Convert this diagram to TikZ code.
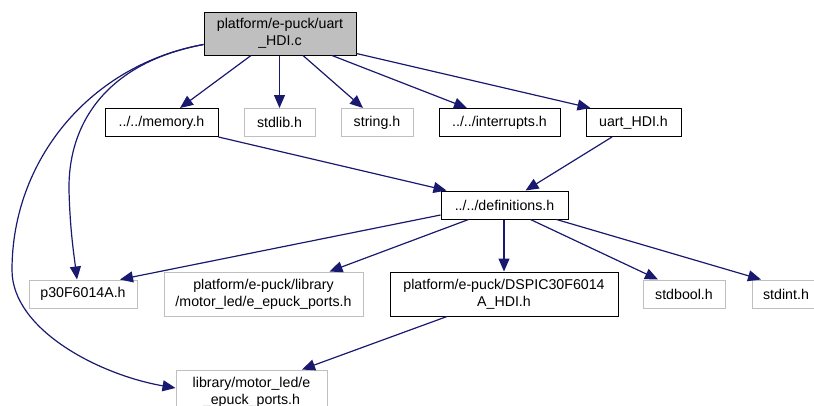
\documentclass[tikz,border=0pt]{standalone}
\usepackage{fontspec}
\setmainfont{Liberation Sans}
\usetikzlibrary{arrows.meta,calc}
\definecolor{edgeblue}{HTML}{191970}
\definecolor{boxgray}{HTML}{BFBFBF}
\begin{document}
\begin{tikzpicture}[x=1pt,y=-1pt,
  box/.style={draw=black,line width=1pt,inner sep=0pt,align=center,
    font=\fontsize{14.2}{17}\selectfont},
  greybox/.style={box,draw=boxgray},
  dep/.style={draw=edgeblue,line width=1.2pt,-{Triangle[length=13pt,width=11pt]}}]
\useasboundingbox (0,0) rectangle (814,405);
\clip (0,0) rectangle (814,405);
\node[box,fill=boxgray,minimum width=152pt,minimum height=43pt] (top) at (280,33.5) {platform/e-puck/uart\\\_HDI.c};
\node[box,minimum width=113pt,minimum height=28pt] (mem) at (161.5,122.5) {../../memory.h};
\node[greybox,minimum width=71pt,minimum height=28pt] (stdlib) at (279.5,122.5) {stdlib.h};
\node[greybox,minimum width=72pt,minimum height=28pt] (string) at (377,122.5) {string.h};
\node[box,minimum width=121pt,minimum height=28pt] (intr) at (499.5,122.5) {../../interrupts.h};
\node[box,minimum width=95pt,minimum height=28pt] (uart) at (633.5,122.5) {uart\_HDI.h};
\node[box,minimum width=127pt,minimum height=28pt] (defs) at (504.5,205) {../../definitions.h};
\node[greybox,minimum width=108pt,minimum height=28pt] (p30) at (83,294) {p30F6014A.h};
\node[greybox,minimum width=199pt,minimum height=44pt] (pports) at (263.5,294) {platform/e-puck/library\\/motor\_led/e\_epuck\_ports.h};
\node[box,minimum width=228pt,minimum height=44pt] (dspic) at (504,294) {platform/e-puck/DSPIC30F6014\\A\_HDI.h};
\node[greybox,minimum width=82pt,minimum height=28pt] (stdbool) at (684,294) {stdbool.h};
\node[greybox,minimum width=68pt,minimum height=28pt] (stdint) at (786,294) {stdint.h};
\node[greybox,minimum width=151pt,minimum height=44pt] (lports) at (251.5,392) {library/motor\_led/e\\\_epuck\_ports.h};
% edges from top
\draw[dep] ([xshift=-29pt]top.south) -- ([xshift=18.5pt]mem.north);
\draw[dep] ([xshift=-0.5pt]top.south) -- (stdlib.north);
\draw[dep] ([xshift=23pt]top.south) -- ([xshift=-14pt]string.north);
\draw[dep] ([xshift=52pt]top.south) -- ([xshift=-32.5pt]intr.north);
\draw[dep] ([yshift=2pt]top.south east) -- ([xshift=5pt]uart.north west);
\draw[dep] ([yshift=-11pt]top.west) .. controls (110,62) and (68,120) .. (69,190)
  .. controls (70,230) and (74,255) .. ([xshift=-6pt]p30.north);
\draw[dep] ([yshift=-11pt]top.west) .. controls (90,65) and (12,160) .. (12,270)
  .. controls (12,330) and (100,375) .. ([yshift=4pt]lports.west);
% edges to definitions
\draw[dep] (mem.south east) -- ([xshift=6pt]defs.north west);
\draw[dep] ([xshift=-21.5pt]uart.south) -- ([xshift=21pt]defs.north);
% edges from definitions
\draw[dep] ([yshift=-10pt]defs.west) -- ([xshift=37pt]p30.north);
\draw[dep] ([xshift=-36pt]defs.south) -- ([xshift=66pt]pports.north);
\draw[dep] ([xshift=-0.5pt]defs.south) -- (dspic.north);
\draw[dep] ([xshift=26pt]defs.south) -- ([xshift=-26pt]stdbool.north);
\draw[dep] ([xshift=52pt]defs.south) -- ([xshift=-25pt]stdint.north);
% dspic to library
\draw[dep] ([xshift=-57pt]dspic.south) -- ([xshift=50.5pt]lports.north);
\end{tikzpicture}
\end{document}
